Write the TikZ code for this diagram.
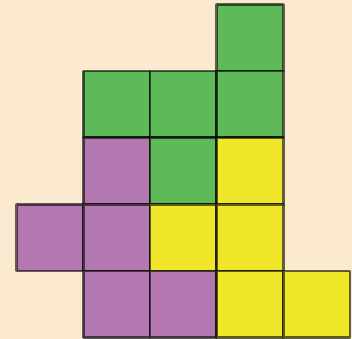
\documentclass[tikz,border=0pt]{standalone}
\usepackage{xcolor}
\usepackage{tikz}
\definecolor{bgbeige}{RGB}{252,234,208}
\definecolor{tgreen}{RGB}{94,186,88}
\definecolor{tpurple}{RGB}{180,120,176}
\definecolor{tyellow}{RGB}{240,230,42}

\begin{document}
\begin{tikzpicture}[cell/.style={draw=black,draw opacity=0.6,line width=1.2pt,line join=round}]
  \fill[bgbeige] (-0.25,-0.02) rectangle (5.03,5.065);
  \useasboundingbox (-0.25,-0.02) rectangle (5.03,5.065);
  \foreach \x/\y/\c in {3/4/tgreen,1/3/tgreen,2/3/tgreen,3/3/tgreen,
    1/2/tpurple,2/2/tgreen,3/2/tyellow,
    0/1/tpurple,1/1/tpurple,2/1/tyellow,3/1/tyellow,
    1/0/tpurple,2/0/tpurple,3/0/tyellow,4/0/tyellow} {
    \draw[cell,fill=\c] (\x,\y) rectangle (\x+1,\y+1);
  }
\end{tikzpicture}
\end{document}
